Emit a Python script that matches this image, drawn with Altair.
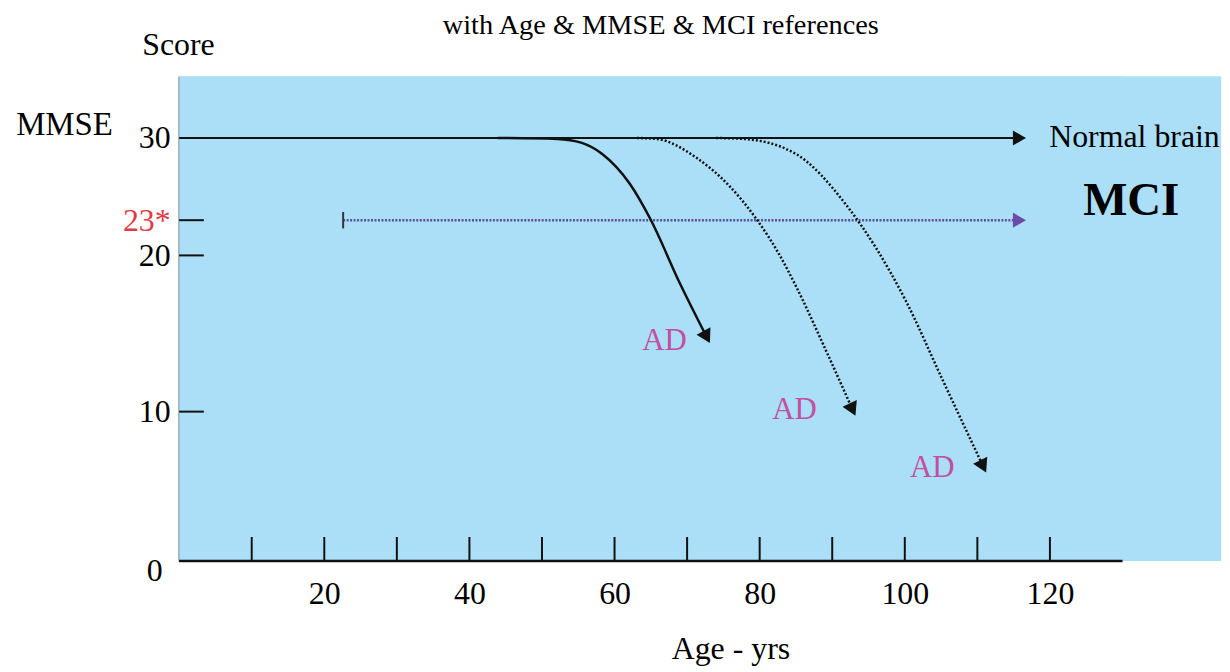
import altair as alt
import pandas as pd

FONT = "Liberation Serif"
BLUE = "#abdff7"
RED = "#e23a44"
MAGENTA = "#c24f9f"
PURPLE = "#5b4fa3"
PURPLE_HEAD = "#6c4aa9"

# ---- axes ----
x_tick_ages = [10, 20, 30, 40, 50, 60, 70, 80, 90, 100, 110, 120]
x_label_ages = [20, 40, 60, 80, 100, 120]
y_label_scores = [0, 10, 20, 23, 30]
y_tick_scores = [10, 20, 23]
x_axis_end = [0, 130]
panel_age = [0, 143.6]
panel_score = [0, 35.25]

# ---- reference lines ----
normal_age = [0, 115.8]
normal_score = [30, 30]
mci_age = [22.6, 115.8]
mci_score = [23, 23]
mci_bar_score = [22.3, 23.7]

# ---- AD decline curves (age, MMSE) ----
curve1_age = [43.9, 52.1, 55.5, 58.3, 62.1, 64.9, 69.0, 72.7]
curve1_score = [30, 29.92, 29.58, 28.64, 26.1, 23.14, 18.22, 14.78]
curve2_age = [63.1, 65.8, 71.3, 75.8, 79.3, 82.7, 85.0, 89.1, 92.8]
curve2_score = [30, 29.92, 28.31, 25.93, 23.31, 20.08, 18.03, 13.95, 10.13]
curve3_age = [74.0, 77.8, 85.0, 91.9, 100.1, 105.2, 110.8]
curve3_score = [30, 29.92, 28.64, 24.32, 17.13, 12.04, 6.33]

# ---- labels ----
ad_age = [66.9, 84.8, 103.8]
ad_score = [14.5, 10.1, 6.2]
normal_label = ("Normal brain", 119.9, 30.1)
mci_label = ("MCI", 131.2, 24.6)
mmse_label = ("MMSE", -15.8, 31.1)
score_label = ("Score", -0.1, 37.87)

xs = alt.Scale(domain=[0, 130], nice=False, zero=False)
ys = alt.Scale(domain=[0, 10, 20, 30, 35.25], range=[487, 337, 180, 62, 0],
               nice=False, zero=False)

xaxis = alt.Axis(values=x_label_ages, ticks=False, domain=False, grid=False,
                 labelFont=FONT, labelFontSize=32, labelColor="black",
                 labelPadding=18, labelFlush=False, labelOverlap=False,
                 title="Age - yrs", titleFont=FONT, titleFontSize=32,
                 titleFontWeight="normal", titleColor="black",
                 titleX=554, titleY=88, titleAlign="center", titleBaseline="middle")
yaxis = alt.Axis(values=y_label_scores, ticks=False, grid=False,
                 domainColor="#222222", domainWidth=2,
                 labelFont=FONT, labelFontSize=32, labelFlush=False, labelOverlap=False,
                 labelBaseline="middle",
                 labelExpr="datum.value == 23 ? '23*' : datum.label",
                 labelColor={"condition": {"test": "datum.value == 23", "value": RED}, "value": "black"},
                 labelOffset={"condition": {"test": "datum.value == 0", "value": 10}, "value": 0},
                 labelPadding={"condition": {"test": "datum.value == 0", "value": 17}, "value": 9},
                 title=None)


def X(f="age"):
    return alt.X(f"{f}:Q", scale=xs, axis=xaxis)


def Y(f="score"):
    return alt.Y(f"{f}:Q", scale=ys, axis=yaxis)


bg = alt.Chart(pd.DataFrame({"age": [panel_age[0]], "age2": [panel_age[1]],
                             "score": [panel_score[0]], "score2": [panel_score[1]]})
               ).mark_rect(color=BLUE).encode(x=X(), x2="age2:Q", y=Y(), y2="score2:Q")

xline = alt.Chart(pd.DataFrame({"age": [x_axis_end[0]], "age2": [x_axis_end[1]], "score": [0]})
                  ).mark_rule(color="#111111", strokeWidth=2.5).encode(x=X(), x2="age2:Q", y=Y())

xticks = alt.Chart(pd.DataFrame({"age": x_tick_ages, "score": 0, "score2": 1.6})
                   ).mark_rule(color="#111111", strokeWidth=2).encode(x=X(), y=Y(), y2="score2:Q")

yticks = alt.Chart(pd.DataFrame({"score": y_tick_scores, "age": 0, "age2": 3.4})
                   ).mark_rule(color="#111111", strokeWidth=2).encode(y=Y(), x=X(), x2="age2:Q")

normal = alt.Chart(pd.DataFrame({"age": normal_age, "score": normal_score})
                   ).mark_line(color="#111111", strokeWidth=2).encode(x=X(), y=Y())
normal_head = alt.Chart(pd.DataFrame({"age": normal_age[-1:], "score": normal_score[-1:]})
                        ).mark_point(shape="triangle-up", filled=True, size=230, angle=90,
                                     color="#111111", opacity=1).encode(x=X(), y=Y())

mci = alt.Chart(pd.DataFrame({"age": mci_age, "score": mci_score})
                ).mark_line(color=PURPLE, strokeWidth=2.5, strokeDash=[2, 1.5]).encode(x=X(), y=Y())
mci_head = alt.Chart(pd.DataFrame({"age": mci_age[-1:], "score": mci_score[-1:]})
                     ).mark_point(shape="triangle-up", filled=True, size=230, angle=90,
                                  color=PURPLE_HEAD, opacity=1).encode(x=X(), y=Y())
mci_bar = alt.Chart(pd.DataFrame({"age": mci_age[:1], "score": [mci_bar_score[0]],
                                  "score2": [mci_bar_score[1]]})
                    ).mark_rule(color="#333333", strokeWidth=2).encode(x=X(), y=Y(), y2="score2:Q")

layers = [bg, xline, xticks, yticks, normal, mci, mci_bar, normal_head, mci_head]

curves = [(curve1_age, curve1_score, None, 152),
          (curve2_age, curve2_score, [2, 2], 155),
          (curve3_age, curve3_score, [2, 2], 154)]
for ages, scores, dash, ang in curves:
    df = pd.DataFrame({"age": ages, "score": scores})
    kw = dict(color="#111111", strokeWidth=2.5, interpolate="monotone")
    if dash:
        kw["strokeDash"] = dash
    layers.append(alt.Chart(df).mark_line(**kw).encode(x=X(), y=Y()))
    layers.append(alt.Chart(df.tail(1)).mark_point(shape="triangle-up", filled=True, size=250,
                                                    angle=ang, color="#111111", opacity=1
                                                    ).encode(x=X(), y=Y()))

ad = alt.Chart(pd.DataFrame({"age": ad_age, "score": ad_score, "t": ["AD"] * 3})
               ).mark_text(font=FONT, fontSize=31, color=MAGENTA, align="center",
                           baseline="middle").encode(x=X(), y=Y(), text="t:N")


def label(spec, **kw):
    t, a, s = spec
    return alt.Chart(pd.DataFrame({"age": [a], "score": [s], "t": [t]})).mark_text(
        font=FONT, baseline="middle", color="black", **kw).encode(x=X(), y=Y(), text="t:N")


layers += [ad,
           label(normal_label, fontSize=32, align="left"),
           label(mci_label, fontSize=47, fontWeight="bold", align="center"),
           label(mmse_label, fontSize=33, align="center"),
           label(score_label, fontSize=32, align="center")]

chart = alt.layer(*layers).properties(
    width=948, height=487,
    title=alt.TitleParams("with Age & MMSE & MCI references", font=FONT, fontSize=28.5,
                          fontWeight="normal", color="black", anchor="middle", offset=-10,
                          dx=10),
    padding={"left": 172, "top": 67, "right": 100, "bottom": 107},
    autosize=alt.AutoSizeParams(type="none"),
).configure_view(stroke=None).configure(background="white")

chart.save("out.html", embed_options={"renderer": "svg", "actions": False})
